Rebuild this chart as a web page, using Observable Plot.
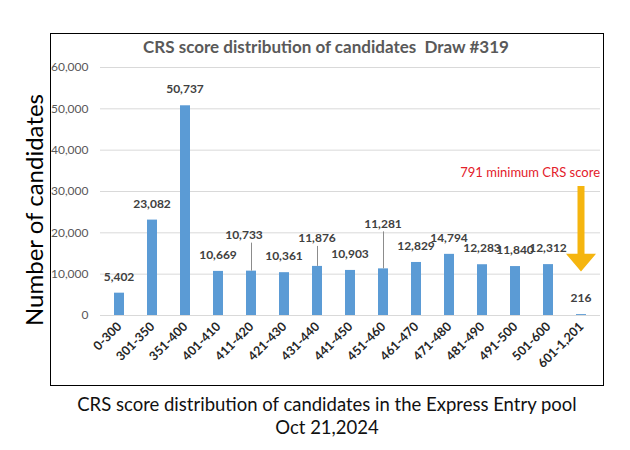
<!DOCTYPE html>
<html>
<head>
<meta charset="utf-8">
<script src="https://cdn.jsdelivr.net/npm/d3@7"></script>
<script src="https://cdn.jsdelivr.net/npm/@observablehq/plot@0.6"></script>
<style>
  html, body { margin: 0; padding: 0; background: #fff; }
  #chart svg { display: block; }
</style>
</head>
<body>
<div id="chart"></div>
<script>
// ---- data ----
const categories = ["0-300","301-350","351-400","401-410","411-420","421-430","431-440","441-450","451-460","461-470","471-480","481-490","491-500","501-600","601-1,201"];
const candidates = [5402, 23082, 50737, 10669, 10733, 10361, 11876, 10903, 11281, 12829, 14794, 12283, 11840, 12312, 216];
const yTicks = [0, 10000, 20000, 30000, 40000, 50000, 60000];
const chartTitle = "CRS score distribution of candidates  Draw #319";
const yTitle = "Number of candidates";
const captionLines = ["CRS score distribution of candidates in the Express Entry pool", "Oct 21,2024"];
const noteText = "791 minimum CRS score";
const noteCategory = "601-1,201";

// ---- table ----
const rows = categories.map((c, i) => ({category: c, value: candidates[i]}));

// label lifts (px above bar top); some labels pulled up with leader lines
const lift = {"411-420": 36, "431-440": 28, "451-460": 45};
const defaultLift = 16;
const leader = new Set(Object.keys(lift));
const labelDx = {"411-420": -7};

const W = 630, H = 450;
const fontFam = "Lato, 'Open Sans', sans-serif";

const plot = Plot.plot({
  width: W,
  height: H,
  marginTop: 67,
  marginBottom: 135,
  marginLeft: 100,
  marginRight: 30,
  style: {fontFamily: fontFam, background: "#fff", overflow: "visible"},
  x: {domain: categories, paddingInner: 0.7, paddingOuter: 0.35, label: null},
  y: {domain: [0, 60000], label: null},
  marks: [
    Plot.ruleY(yTicks, {stroke: "#d9d9d9", strokeWidth: 1}),
    Plot.barY(rows, {x: "category", y: "value", fill: "#5b9bd5"}),
    Plot.axisY({ticks: yTicks, tickSize: 0, tickPadding: 12, tickFormat: d3.format(","), fontSize: 12, fill: "#595959", label: null}),
    Plot.axisX({tickSize: 0, tickPadding: 9, tickRotate: -45, fontSize: 12.5, fontWeight: "bold", fill: "#262626", label: null})
  ]
});

document.getElementById("chart").appendChild(plot);

const svg = d3.select(plot);
const xs = plot.scale("x"), ys = plot.scale("y");
const bw = xs.bandwidth;
const xc = c => xs.apply(c) + bw / 2;

// frame
svg.append("rect")
  .attr("x", 50.5).attr("y", 33.5).attr("width", 553).attr("height", 352)
  .attr("fill", "none").attr("stroke", "#000").attr("stroke-width", 1);

// title
svg.append("text")
  .attr("x", 326).attr("y", 47).attr("dy", "0.35em")
  .attr("text-anchor", "middle")
  .attr("font-family", fontFam).attr("font-weight", "bold")
  .attr("font-size", 17).attr("fill", "#595959")
  .text(chartTitle);

// y title
svg.append("text")
  .attr("transform", "translate(35,210) rotate(-90)")
  .attr("dy", "0.35em")
  .attr("text-anchor", "middle")
  .attr("font-family", fontFam)
  .attr("font-size", 24).attr("fill", "#000")
  .text(yTitle);

// caption
captionLines.forEach((t, i) => {
  svg.append("text")
    .attr("x", 327).attr("y", 405 + i * 23).attr("dy", "0.35em")
    .attr("text-anchor", "middle")
    .attr("font-family", fontFam)
    .attr("font-size", 18.5).attr("fill", "#111")
    .text(t);
});

// data labels + leader lines
rows.forEach(r => {
  const top = ys.apply(r.value);
  const l = lift[r.category] ?? defaultLift;
  const cy = top - l;
  const cx = xc(r.category) + (labelDx[r.category] || 0);
  if (leader.has(r.category)) {
    svg.append("line")
      .attr("x1", xc(r.category) + 0.5).attr("x2", xc(r.category) + 0.5)
      .attr("y1", cy + 8).attr("y2", top)
      .attr("stroke", "#8c8c8c").attr("stroke-width", 1);
  }
  svg.append("text")
    .attr("x", cx).attr("y", cy).attr("dy", "0.35em")
    .attr("text-anchor", "middle")
    .attr("font-family", fontFam).attr("font-weight", "bold")
    .attr("font-size", 12).attr("fill", "#404040")
    .text(d3.format(",")(r.value));
});

// annotation note + arrow
const ax = xc(noteCategory);
svg.append("text")
  .attr("x", 600).attr("y", 172).attr("dy", "0.35em")
  .attr("text-anchor", "end")
  .attr("font-family", fontFam)
  .attr("font-size", 13).attr("fill", "#e3202a")
  .text(noteText);
const shaftTop = ys.apply(31200), headBase = ys.apply(14800), tip = ys.apply(10500);
svg.append("path")
  .attr("d", `M${ax - 3.5},${shaftTop} L${ax + 3.5},${shaftTop} L${ax + 3.5},${headBase} L${ax + 15},${headBase} L${ax},${tip} L${ax - 15},${headBase} L${ax - 3.5},${headBase} Z`)
  .attr("fill", "#f5b50f");
</script>
</body>
</html>
